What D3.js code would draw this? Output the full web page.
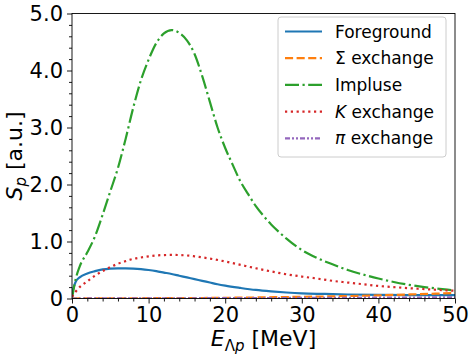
<!DOCTYPE html>
<html>
<head>
<meta charset="utf-8">
<script src="https://cdn.jsdelivr.net/npm/d3@7"></script>
<style>
html,body{margin:0;padding:0;background:#fff;}
svg{display:block;font-family:"DejaVu Sans",sans-serif;}
</style>
</head>
<body>
<svg id="chart" width="469" height="358"></svg>
<script>
// ---- data ----
const xTicks = [0, 10, 20, 30, 40, 50];
const yTicks = [0, 1, 2, 3, 4, 5];
const yTickLabels = ["0", "1.0", "2.0", "3.0", "4.0", "5.0"];

const foregroundE = [0,0.5,1,2,3,4,5,6,7,8,9,10,11,12,13,14,15,16,17,18,19,20,22,24,26,28,30,33,36,40,45,50];
const foregroundV = [0.1,0.3,0.37,0.44,0.48,0.51,0.525,0.53,0.53,0.525,0.515,0.5,0.48,0.455,0.43,0.4,0.37,0.34,0.31,0.28,0.25,0.225,0.185,0.15,0.125,0.105,0.09,0.08,0.07,0.065,0.06,0.06];

const sigmaE = [0,10,20,25,30,35,40,45,50];
const sigmaV = [0,0.005,0.012,0.02,0.03,0.04,0.055,0.075,0.095];

const impulseE = [0,0.5,1,2,3,4,5,6,7,8,9,10,11,12,13,14,15,16,17,18,19,20,21,22,23,24,25,26,27,28,30,32,34,36,38,40,42,44,46,48,50];
const impulseV = [0,0.35,0.56,0.81,1.09,1.47,1.88,2.29,2.8,3.35,3.83,4.19,4.48,4.65,4.71,4.66,4.53,4.29,3.9,3.45,3.0,2.64,2.34,2.05,1.83,1.62,1.45,1.3,1.17,1.05,0.85,0.71,0.6,0.5,0.42,0.35,0.29,0.24,0.2,0.17,0.14];

const kaonE = [0,1,2,3,4,5,6,7,8,9,10,11,12,13,14,15,16,18,20,22,24,26,28,30,32,34,36,38,40,42,44,46,48,50];
const kaonV = [0.03,0.2,0.3,0.4,0.48,0.55,0.61,0.655,0.695,0.72,0.74,0.755,0.762,0.765,0.762,0.755,0.74,0.7,0.65,0.59,0.53,0.475,0.425,0.385,0.35,0.31,0.28,0.25,0.22,0.2,0.18,0.165,0.15,0.135];

const pionE = [0,10,20,30,40,50];
const pionV = [0,0.003,0.006,0.01,0.015,0.02];

const seriesNames = ["Foreground", "Σ exchange", "Impluse", "K exchange", "π exchange"];

// ---- layout ----
const svg = d3.select("#chart");
const L = 72, R = 455, T = 13.5, B = 298.5;
const x = d3.scaleLinear().domain([0, 50]).range([L, R]);
const y = d3.scaleLinear().domain([0, 5]).range([B, T]);

const series = [
  {name: seriesNames[0], E: foregroundE, V: foregroundV, color: "#1f77b4", dash: null},
  {name: seriesNames[1], E: sigmaE, V: sigmaV, color: "#ff7f0e", dash: "8.1,3.5"},
  {name: seriesNames[2], E: impulseE, V: impulseV, color: "#2ca02c", dash: "14,3.5,2.2,3.5"},
  {name: seriesNames[3], E: kaonE, V: kaonV, color: "#d62728", dash: "2.2,3.6"},
  {name: seriesNames[4], E: pionE, V: pionV, color: "#9467bd", dash: "5,2,2,2,2,2"}
];

const line = d3.line().x(d => x(d[0])).y(d => y(d[1])).curve(d3.curveMonotoneX);

const plot = svg.append("g");
plot.append("defs").append("clipPath").attr("id","clip")
  .append("rect").attr("x",L).attr("y",T).attr("width",R-L).attr("height",B-T);

const lines = plot.append("g").attr("clip-path","url(#clip)");
series.forEach(s => {
  const pts = s.E.map((e,i) => [e, s.V[i]]);
  lines.append("path").attr("d", line(pts))
    .attr("fill","none").attr("stroke", s.color).attr("stroke-width", 2.2)
    .attr("stroke-dasharray", s.dash);
});

// ---- axes ----
const fs = 21;
const xAxis = d3.axisBottom(x).tickValues(xTicks).tickSize(5).tickPadding(4).tickFormat(d3.format("d"));
const xMinor = d3.axisBottom(x).tickValues(d3.range(0, 51, 2).filter(v => v % 10 !== 0)).tickSize(3).tickFormat("");
const yAxis = d3.axisLeft(y).tickValues(yTicks).tickSize(5).tickPadding(4).tickFormat((d,i) => yTickLabels[i]);
const yMinor = d3.axisLeft(y).tickValues(d3.range(0, 5.01, 0.2).filter(v => Math.abs(v - Math.round(v)) > 1e-6)).tickSize(3).tickFormat("");

function style(g){
  g.select(".domain").remove();
  g.selectAll("line").attr("stroke","#000").attr("stroke-width",0.9);
  g.selectAll("text").attr("fill","#000").style("font-size", fs + "px").style("font-family","DejaVu Sans");
}
svg.append("g").attr("transform",`translate(0,${B})`).call(xAxis).call(style);
svg.append("g").attr("transform",`translate(0,${B})`).call(xMinor).call(style);
svg.append("g").attr("transform",`translate(${L},0)`).call(yAxis).call(style);
svg.append("g").attr("transform",`translate(${L},0)`).call(yMinor).call(style);

// frame
svg.append("rect").attr("x",L).attr("y",T).attr("width",R-L).attr("height",B-T)
  .attr("fill","none").attr("stroke","#000").attr("stroke-width",0.9);

// axis labels
const xl = svg.append("text").attr("x",(L+R)/2).attr("y",346).attr("text-anchor","middle")
  .style("font-size","22px");
xl.append("tspan").style("font-style","italic").text("E");
xl.append("tspan").attr("dy",5).style("font-size","15px").text("Λ");
xl.append("tspan").style("font-size","15px").style("font-style","italic").text("p");
xl.append("tspan").attr("dy",-5).text(" [MeV]");

const yl = svg.append("text").attr("transform",`translate(22,${(T+B)/2}) rotate(-90)`)
  .attr("text-anchor","middle").style("font-size","22px");
yl.append("tspan").style("font-style","italic").text("S");
yl.append("tspan").attr("dy",4).style("font-size","15px").style("font-style","italic").text("p");
yl.append("tspan").attr("dy",-4).text(" [a.u.]");

// ---- legend ----
const lg = svg.append("g");
lg.append("rect").attr("x",278).attr("y",17).attr("width",168).attr("height",140)
  .attr("rx",3).attr("fill","#fff").attr("fill-opacity",0.8).attr("stroke","#cccccc").attr("stroke-width",1);
const legendLabels = [
  [["Foreground", false]],
  [["Σ exchange", false]],
  [["Impluse", false]],
  [["K", true], [" exchange", false]],
  [["π", true], [" exchange", false]]
];
series.forEach((s,i) => {
  const cy = 31.5 + i * 26.7;
  lg.append("line").attr("x1",285).attr("x2",322).attr("y1",cy).attr("y2",cy)
    .attr("stroke", s.color).attr("stroke-width",2.2).attr("stroke-dasharray", s.dash);
  const t = lg.append("text").attr("x",335).attr("y",cy + 6).style("font-size","17px");
  legendLabels[i].forEach(([txt, it]) => {
    t.append("tspan").style("font-style", it ? "italic" : "normal").text(txt);
  });
});
</script>
</body>
</html>
